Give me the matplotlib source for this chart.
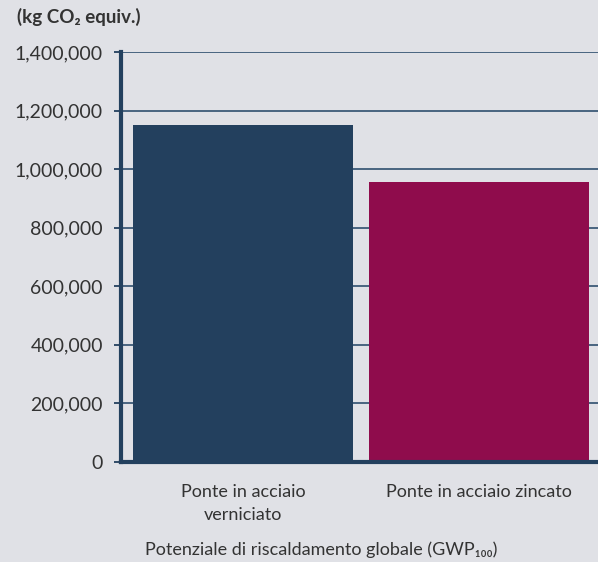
import matplotlib.pyplot as plt
from matplotlib.ticker import FuncFormatter

categories = ["Ponte in acciaio\nverniciato", "Ponte in acciaio zincato"]
values = [1150000, 957000]
bar_colors = ["#23405e", "#8f0c4c"]
y_ticks = [0, 200000, 400000, 600000, 800000, 1000000, 1200000, 1400000]

plt.rcParams["font.family"] = ["Lato", "DejaVu Sans"]

bg = "#e0e1e6"
navy = "#23405e"
text_color = "#333333"

fig = plt.figure(figsize=(5.98, 5.62), dpi=100, facecolor=bg)
ax = fig.add_axes([121 / 598, 100 / 562, 477 / 598, 410 / 562])
ax.set_facecolor(bg)

x = range(len(categories))
ax.bar(x, values, width=0.93, color=bar_colors, zorder=3)

ax.set_ylim(0, 1400000)
ax.set_xlim(-0.517, 1.504)
ax.set_yticks(y_ticks)
ax.yaxis.set_major_formatter(FuncFormatter(lambda v, p: f"{int(v):,}"))
ax.yaxis.grid(True, color="#3d5a78", linewidth=1.3, zorder=1)
ax.xaxis.grid(False)

for s in ["top", "right"]:
    ax.spines[s].set_visible(False)
for s in ["left", "bottom"]:
    ax.spines[s].set_color(navy)
    ax.spines[s].set_linewidth(3)
    ax.spines[s].set_zorder(4)

ax.set_xticks(list(x))
ax.set_xticklabels(categories, fontsize=13, color=text_color, linespacing=1.5)
ax.tick_params(axis="x", length=0, pad=16)
ax.tick_params(axis="y", length=5, width=1.3, color=navy, labelsize=14,
               labelcolor=text_color, pad=8)

fig.text(17 / 598, 1 - 17 / 562, "(kg CO\u2082 equiv.)", fontsize=13.5,
         fontweight="bold", color=text_color, va="center", ha="left")
fig.text(321 / 598, 1 - 550 / 562, "Potenziale di riscaldamento globale (GWP\u2081\u2080\u2080)",
         fontsize=13, color=text_color, va="center", ha="center")

fig.savefig("out.png", dpi=100, facecolor=bg)
